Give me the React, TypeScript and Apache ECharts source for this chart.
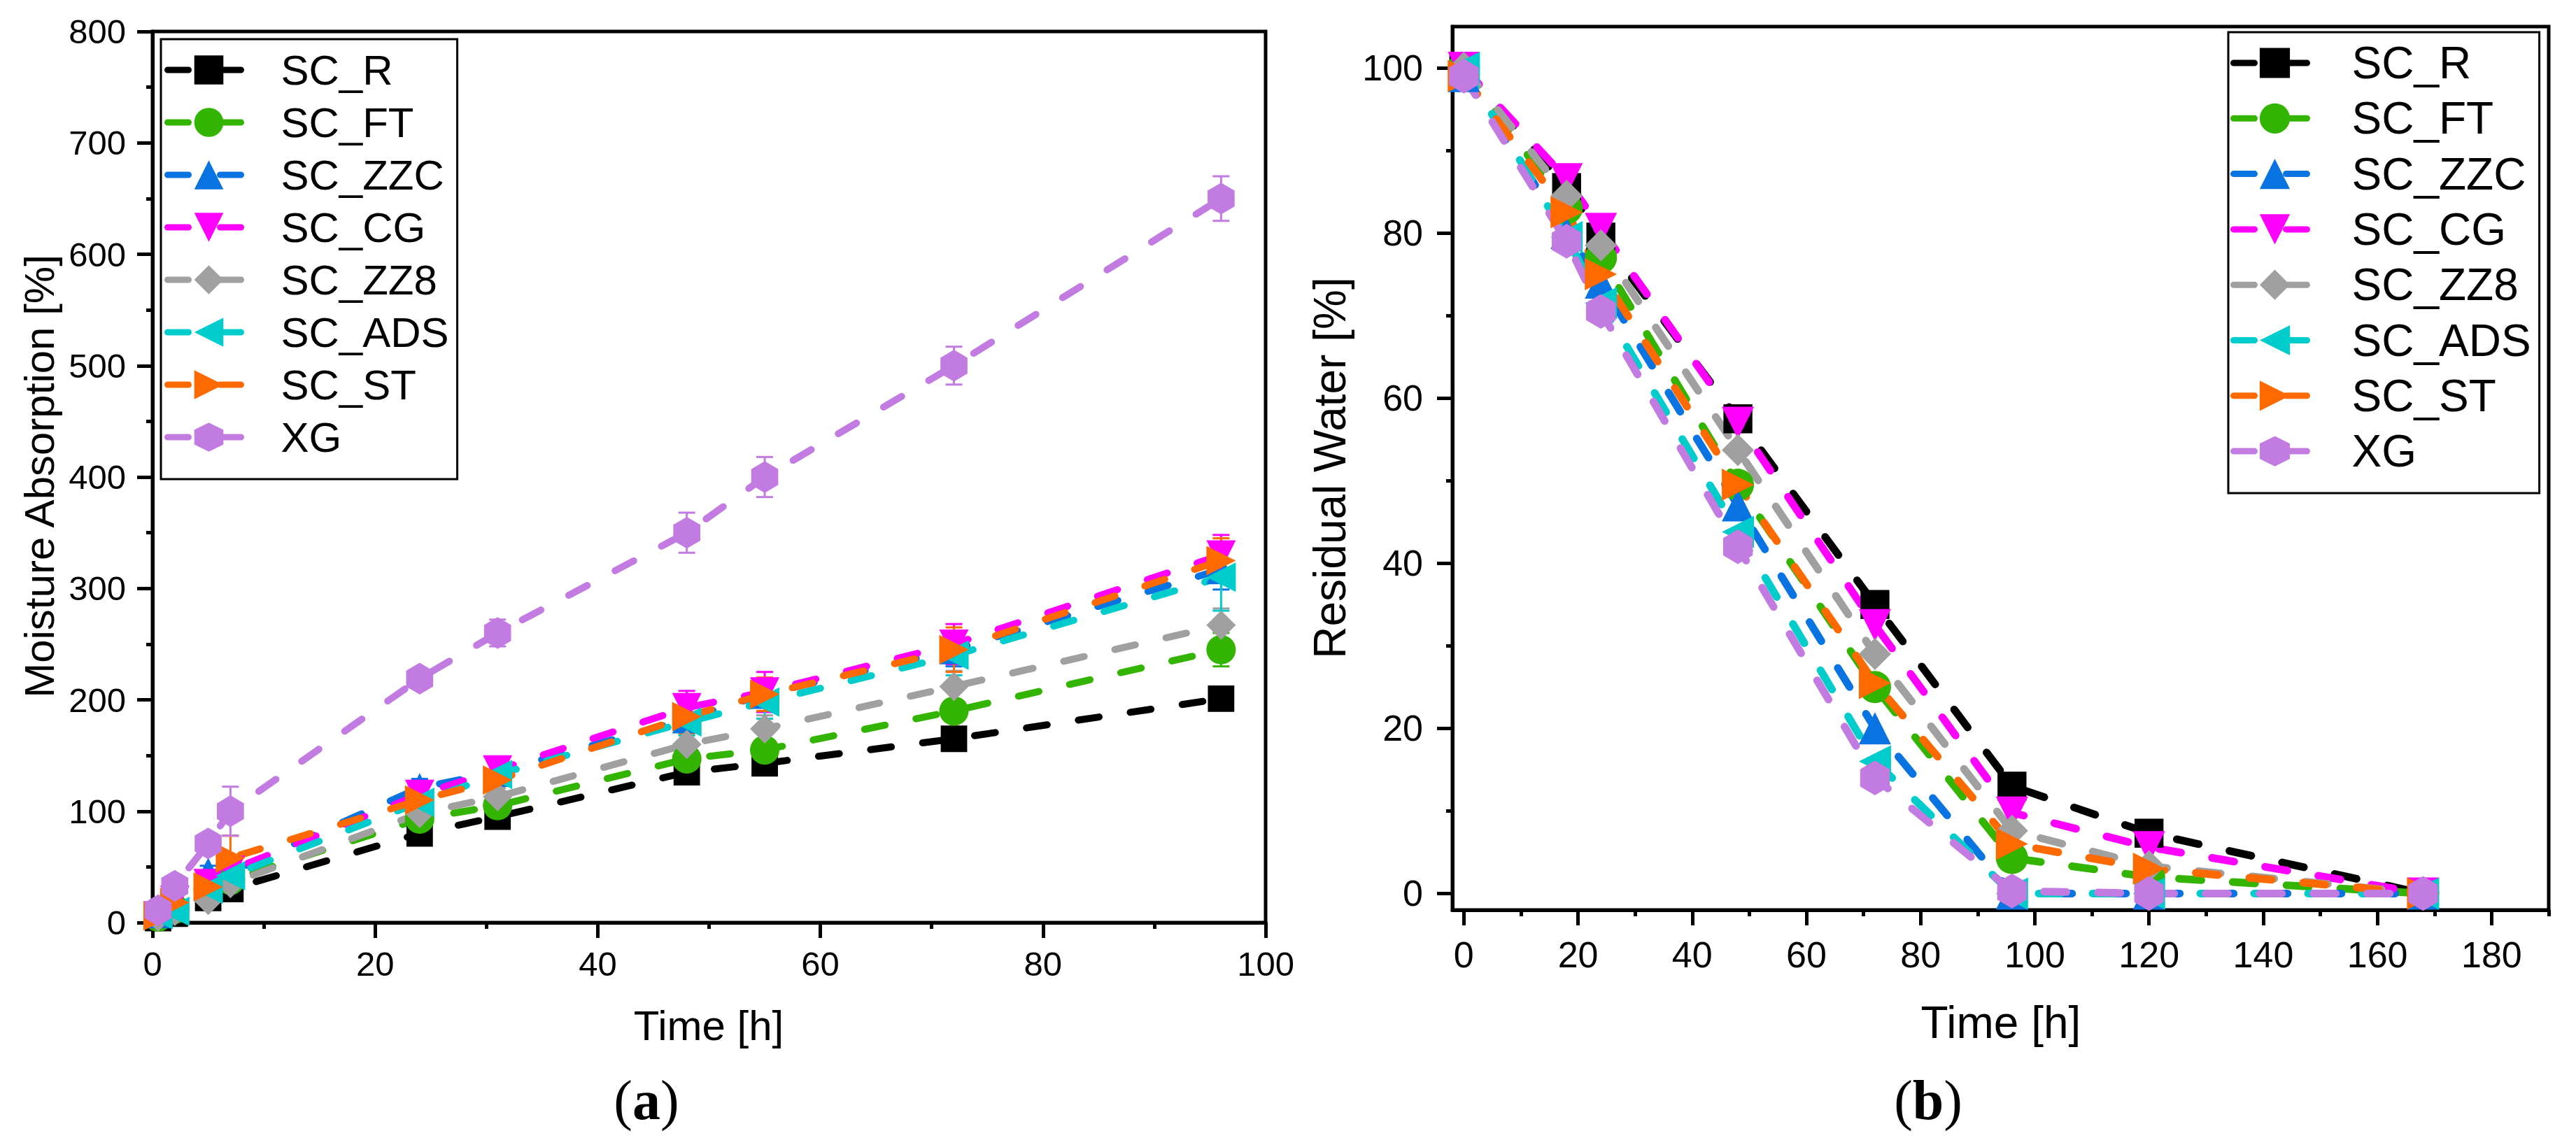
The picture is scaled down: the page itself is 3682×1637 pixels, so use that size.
import React, { useEffect, useRef } from 'react'
import * as echarts from 'echarts'

const NAMES = ['SC_R', 'SC_FT', 'SC_ZZC', 'SC_CG', 'SC_ZZ8', 'SC_ADS', 'SC_ST', 'XG']
const COLORS = ['#000000', '#33b400', '#0a73e2', '#ff00ff', '#a0a0a0', '#00cccc', '#ff6a00', '#c27be0']
const HEX = 'path://M0,-1L0.866,-0.5L0.866,0.5L0,1L-0.866,0.5L-0.866,-0.5Z'
const SYMBOLS = ['rect', 'circle', 'triangle', 'triangle', 'diamond', 'triangle', 'triangle', HEX]
const ROTATES = [0, 0, 0, 180, 0, 90, -90, 0]

// (a) moisture absorption
const TIME_A = [0.5, 2, 5, 7, 24, 31, 48, 55, 72, 96]
const ABS_R = [4, 8, 22, 30, 80, 95, 135, 143, 165, 201]
const ABS_FT = [5, 12, 30, 38, 93, 105, 147, 155, 190, 245]
const ABS_ZZC = [8, 18, 45, 45, 121, 135, 183, 205, 245, 317]
const ABS_CG = [6, 20, 35, 47, 115, 137, 193, 207, 250, 330]
const ABS_ZZ8 = [5, 10, 20, 35, 98, 113, 160, 174, 212, 267]
const ABS_ADS = [7, 10, 30, 42, 108, 133, 180, 198, 240, 310]
const ABS_ST = [6, 18, 32, 58, 110, 128, 185, 205, 245, 325]
const ABS_XG = [11, 33, 71, 100, 219, 260, 350, 400, 500, 650]

const ERR_R = [2, 3, 4, 4, 5, 6, 6, 6, 8, 10]
const ERR_FT = [2, 3, 4, 5, 6, 7, 8, 8, 10, 15]
const ERR_ZZC = [3, 4, 6, 6, 8, 10, 12, 12, 15, 18]
const ERR_CG = [3, 4, 6, 6, 8, 10, 15, 18, 18, 18]
const ERR_ZZ8 = [2, 3, 4, 5, 6, 8, 10, 12, 14, 15]
const ERR_ADS = [3, 4, 5, 6, 8, 10, 12, 15, 18, 30]
const ERR_ST = [3, 4, 6, 20, 10, 10, 15, 15, 20, 20]
const ERR_XG = [4, 5, 8, 22, 8, 12, 18, 18, 17, 20]

// (b) residual water
const TIME_B = [0, 18, 24, 48, 72, 96, 120, 168]
const RW_R = [100, 85.5, 79.5, 57.5, 35, 13, 7.3, 0]
const RW_FT = [100, 83, 77, 49.5, 25, 4.3, 2, 0]
const RW_ZZC = [99, 80, 74, 47, 20, 0, 0, 0]
const RW_CG = [100, 86.5, 80.5, 57, 32.5, 9.8, 5.6, 0]
const RW_ZZ8 = [100, 84.5, 78.5, 53.7, 29, 7.6, 3.3, 0]
const RW_ADS = [100, 79.5, 71.5, 43.8, 16, 0, 0, 0]
const RW_ST = [99, 82.5, 75, 49.5, 25.5, 6, 3, 0]
const RW_XG = [99, 79, 70.5, 42, 14, 0.3, 0, 0]

const TICKS_BX = [0, 20, 40, 60, 80, 100, 120, 140, 160, 180]
const MINOR_BX = [10, 30, 50, 70, 90, 110, 130, 150, 170, 190]
const TICKS_BY = [0, 20, 40, 60, 80, 100]
const MINOR_BY = [10, 30, 50, 70, 90]

const ABS = [ABS_R, ABS_FT, ABS_ZZC, ABS_CG, ABS_ZZ8, ABS_ADS, ABS_ST, ABS_XG]
const ERRS = [ERR_R, ERR_FT, ERR_ZZC, ERR_CG, ERR_ZZ8, ERR_ADS, ERR_ST, ERR_XG]
const RW = [RW_R, RW_FT, RW_ZZC, RW_CG, RW_ZZ8, RW_ADS, RW_ST, RW_XG]

const FONT = '"Liberation Sans", Arial, sans-serif'
const SERIF = '"Liberation Serif", serif'

const App: React.FC = () => {
  const chartRef = useRef<HTMLDivElement>(null)

  useEffect(() => {
    if (!chartRef.current) return
    const chart = echarts.init(chartRef.current, null, { renderer: 'svg' })

    const line = { show: true, onZero: false, lineStyle: { color: '#000', width: 5 } }
    const tick = { show: true, inside: false, length: 22, lineStyle: { color: '#000', width: 5 } }
    const minor = { show: true, splitNumber: 2, length: 9, lineStyle: { color: '#000', width: 5 } }
    const label = (size: number, margin: number) => ({ color: '#000', fontSize: size, fontFamily: FONT, margin })

    const symbolSize = (i: number, big: number) =>
      i === 7 ? [big * 0.92, big * 1.08] : i === 0 ? big * 0.9 : big

    const seriesA = NAMES.map((name, i) => ({
      name,
      type: 'line',
      xAxisIndex: 0,
      yAxisIndex: 0,
      data: TIME_A.map((t, k) => [t, ABS[i][k]]),
      symbol: SYMBOLS[i],
      symbolRotate: ROTATES[i],
      symbolSize: symbolSize(i, 42),
      itemStyle: { color: COLORS[i] },
      lineStyle: { color: COLORS[i], width: 10, type: [30, 45], cap: 'round' }
    }))

    const errA = NAMES.map((name, i) => ({
      name,
      type: 'custom',
      xAxisIndex: 0,
      yAxisIndex: 0,
      data: TIME_A.map((t, k) => [t, ABS[i][k], ERRS[i][k]]),
      renderItem: (params: any, api: any) => {
        const x = api.value(0)
        const y = api.value(1)
        const e = api.value(2)
        const top = api.coord([x, y + e])
        const bot = api.coord([x, y - e])
        const w = 12
        const style = { stroke: COLORS[i], lineWidth: 3 }
        return {
          type: 'group',
          children: [
            { type: 'line', shape: { x1: top[0], y1: top[1], x2: bot[0], y2: bot[1] }, style },
            { type: 'line', shape: { x1: top[0] - w, y1: top[1], x2: top[0] + w, y2: top[1] }, style },
            { type: 'line', shape: { x1: bot[0] - w, y1: bot[1], x2: bot[0] + w, y2: bot[1] }, style }
          ]
        }
      }
    }))

    const seriesB = NAMES.map((name, i) => ({
      name,
      type: 'line',
      xAxisIndex: 1,
      yAxisIndex: 1,
      data: TIME_B.map((t, k) => [t, RW[i][k]]),
      symbol: SYMBOLS[i],
      symbolRotate: ROTATES[i],
      symbolSize: symbolSize(i, 46),
      itemStyle: { color: COLORS[i] },
      lineStyle: { color: COLORS[i], width: 11, type: [32, 45], cap: 'round' }
    }))

    const legendBase = {
      orient: 'vertical',
      data: NAMES,
      itemWidth: 118,
      borderColor: '#000',
      borderWidth: 3,
      selectedMode: false,
      lineStyle: { width: 9, cap: 'round' }
    }

    const option = {
      animation: false,
      backgroundColor: '#fff',
      grid: [
        { left: 218, top: 45, width: 1591, height: 1274, show: true, borderColor: '#000', borderWidth: 5, backgroundColor: 'transparent' },
        { left: 2076, top: 38, width: 1567, height: 1263, show: true, borderColor: '#000', borderWidth: 5, backgroundColor: 'transparent' }
      ],
      xAxis: [
        {
          gridIndex: 0, type: 'value', position: 'bottom', min: 0, max: 100, interval: 20,
          axisLine: line, axisTick: tick, minorTick: minor,
          splitLine: { show: false }, minorSplitLine: { show: false },
          axisLabel: label(49, 34)
        },
        {
          gridIndex: 1, type: 'value', position: 'bottom', min: -2, max: 190,
          axisLine: line, axisTick: { ...tick, customValues: TICKS_BX },
          splitLine: { show: false },
          axisLabel: { ...label(52, 38), customValues: TICKS_BX }
        },
        {
          gridIndex: 1, type: 'value', position: 'bottom', min: -2, max: 190,
          axisLine: { show: false, onZero: false },
          axisTick: { ...tick, length: 9, customValues: MINOR_BX },
          splitLine: { show: false },
          axisLabel: { show: false }
        }
      ],
      yAxis: [
        {
          gridIndex: 0, type: 'value', position: 'left', min: 0, max: 800, interval: 100,
          axisLine: line, axisTick: tick, minorTick: minor,
          splitLine: { show: false }, minorSplitLine: { show: false },
          axisLabel: label(49, 38)
        },
        {
          gridIndex: 1, type: 'value', position: 'left', min: -2, max: 105,
          axisLine: line, axisTick: { ...tick, customValues: TICKS_BY },
          splitLine: { show: false },
          axisLabel: { ...label(52, 42), customValues: TICKS_BY }
        },
        {
          gridIndex: 1, type: 'value', position: 'left', min: -2, max: 105,
          axisLine: { show: false, onZero: false },
          axisTick: { ...tick, length: 9, customValues: MINOR_BY },
          splitLine: { show: false },
          axisLabel: { show: false }
        }
      ],
      legend: [
        {
          ...legendBase,
          left: 230,
          top: 56,
          itemHeight: 52,
          itemGap: 15,
          padding: [14, 12, 30, 5],
          textStyle: { color: '#000', fontSize: 60, fontFamily: FONT, padding: [0, 0, 0, 39] }
        },
        {
          ...legendBase,
          left: 3185,
          top: 46,
          itemHeight: 54,
          itemGap: 15.3,
          padding: [12, 12, 28, 3],
          textStyle: { color: '#000', fontSize: 64, fontFamily: FONT, padding: [0, 0, 0, 46] }
        }
      ],
      graphic: [
        {
          type: 'text', x: 56, y: 681, rotation: Math.PI / 2,
          style: { text: 'Moisture Absorption [%]', fill: '#000', fontSize: 60, fontFamily: FONT, textAlign: 'center', textVerticalAlign: 'middle' }
        },
        {
          type: 'text', x: 1013, y: 1466,
          style: { text: 'Time [h]', fill: '#000', fontSize: 60, fontFamily: FONT, textAlign: 'center', textVerticalAlign: 'middle' }
        },
        {
          type: 'text', x: 1901, y: 669, rotation: Math.PI / 2,
          style: { text: 'Residual Water [%]', fill: '#000', fontSize: 64, fontFamily: FONT, textAlign: 'center', textVerticalAlign: 'middle' }
        },
        {
          type: 'text', x: 2860, y: 1462,
          style: { text: 'Time [h]', fill: '#000', fontSize: 64, fontFamily: FONT, textAlign: 'center', textVerticalAlign: 'middle' }
        },
        {
          type: 'text', x: 924, y: 1573,
          style: {
            text: '{p|(}{b|a}{p|)}', textAlign: 'center', textVerticalAlign: 'middle',
            rich: {
              p: { fontSize: 80, fontFamily: SERIF, fill: '#000' },
              b: { fontSize: 80, fontWeight: 'bold', fontFamily: SERIF, fill: '#000' }
            }
          }
        },
        {
          type: 'text', x: 2756, y: 1573,
          style: {
            text: '{p|(}{b|b}{p|)}', textAlign: 'center', textVerticalAlign: 'middle',
            rich: {
              p: { fontSize: 80, fontFamily: SERIF, fill: '#000' },
              b: { fontSize: 80, fontWeight: 'bold', fontFamily: SERIF, fill: '#000' }
            }
          }
        }
      ],
      series: [...seriesA, ...errA, ...seriesB]
    }

    chart.setOption(option as any)

    return () => {
      chart.dispose()
    }
  }, [])

  return (
    <div
      ref={chartRef}
      style={{ position: 'fixed', left: 0, top: 0, width: '3682px', height: '1637px', background: '#fff' }}
    />
  )
}

export default App
